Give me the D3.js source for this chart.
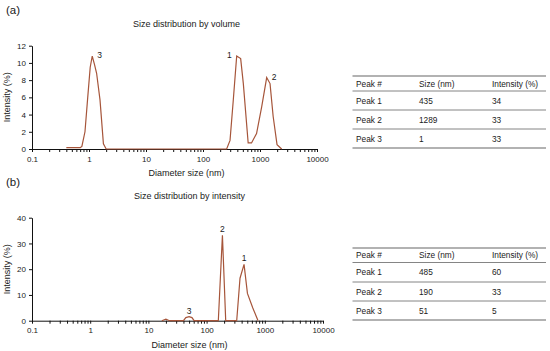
<!DOCTYPE html>
<html>
<head>
<meta charset="utf-8">
<script src="https://cdn.jsdelivr.net/npm/d3@7"></script>
<style>
  body { margin: 0; background: #fff; }
  svg { font-family: "Liberation Sans", Arial, sans-serif; }
</style>
</head>
<body>
<svg id="fig" width="550" height="351"></svg>
<script>
// Volume distribution (panel a)
const volSize = [0.4, 0.5, 0.6, 0.7, 0.75, 0.85, 0.95, 1.05, 1.14, 1.25, 1.36, 1.56, 1.79, 2.0,
  260, 298, 340, 390, 458, 510, 620, 710, 870, 1070, 1310, 1500, 1700, 1990, 2400];
const volValue = [0.15, 0.15, 0.15, 0.15, 0.3, 2.0, 6.0, 9.5, 10.8, 9.8, 8.8, 5.7, 0.6, 0,
  0, 1.0, 5.7, 10.8, 10.5, 7.6, 0.7, 0.7, 1.8, 4.9, 8.3, 7.6, 3.8, 0.5, 0];
const volPeaks = [
  { name: '3', size: 1.14, value: 10.8, side: 'right' },
  { name: '1', size: 390, value: 10.8, side: 'left' },
  { name: '2', size: 1310, value: 8.3, side: 'right' }
];

// Intensity distribution (panel b)
const intSize = [17, 20, 23, 40, 44, 50, 56, 61, 159, 187, 213, 329, 375, 440, 503, 620, 766];
const intValue = [0, 0.6, 0, 0, 1.2, 1.6, 1.2, 0, 0, 33.2, 0, 0, 16.5, 21.9, 10.6, 5, 0];
const intPeaks = [
  { name: '2', size: 187, value: 33.2, side: 'top' },
  { name: '1', size: 440, value: 21.9, side: 'top' },
  { name: '3', size: 50, value: 1.6, side: 'top' }
];

// Tables
const tableHeader = ['Peak #', 'Size (nm)', 'Intensity (%)'];
const volTable = [['Peak 1', '435', '34'], ['Peak 2', '1289', '33'], ['Peak 3', '1', '33']];
const intTable = [['Peak 1', '485', '60'], ['Peak 2', '190', '33'], ['Peak 3', '51', '5']];

const volTicksY = [0, 2, 4, 6, 8, 10, 12];
const intTicksY = [0, 10, 20, 30, 40];

const svg = d3.select('#fig');
const lineColor = '#a6553a';
const textColor = '#1a1a1a';

// log ticks: 0.1..10000 with minor ticks 2..9
const xTicks = [];
for (let e = -1; e < 4; e++) {
  for (let m = 1; m < 10; m++) xTicks.push(m * Math.pow(10, e));
}
xTicks.push(10000);
const majors = [0.1, 1, 10, 100, 1000, 10000];

function panel(opt) {
  const x = d3.scaleLog().domain([0.1, 10000]).range([opt.left, opt.right]);
  const y = d3.scaleLinear().domain([0, opt.ymax]).range([opt.bottom, opt.top]);
  const g = svg.append('g');

  g.append('text')
    .attr('x', 6).attr('y', opt.top - 32)
    .attr('font-size', 11.5).attr('fill', textColor)
    .text(opt.letter);

  g.append('text')
    .attr('x', (opt.left + opt.right) / 2 + 12).attr('y', opt.top - 19)
    .attr('text-anchor', 'middle')
    .attr('font-size', 9).attr('fill', textColor)
    .text(opt.title);

  const xAxis = d3.axisBottom(x)
    .tickValues(xTicks)
    .tickFormat(d => majors.includes(d) ? (d < 1 ? '0.1' : String(d)) : '')
    .tickSize(3)
    .tickSizeOuter(0);
  const xg = g.append('g')
    .attr('transform', `translate(0,${opt.bottom})`)
    .call(xAxis);
  xg.selectAll('text').attr('font-size', 8).attr('fill', textColor).attr('dy', '0.85em');
  xg.selectAll('line, path').attr('stroke', '#111');

  const yAxis = d3.axisLeft(y)
    .tickValues(opt.yTicks)
    .tickSize(3)
    .tickSizeOuter(0);
  const yg = g.append('g')
    .attr('transform', `translate(${opt.left},0)`)
    .call(yAxis);
  yg.selectAll('text').attr('font-size', 8).attr('fill', textColor);
  yg.selectAll('line, path').attr('stroke', '#111');

  g.append('text')
    .attr('transform', `translate(10,${(opt.top + opt.bottom) / 2}) rotate(-90)`)
    .attr('text-anchor', 'middle')
    .attr('font-size', 9).attr('fill', textColor)
    .text('Intensity (%)');

  g.append('text')
    .attr('x', (opt.left + opt.right) / 2 + 12).attr('y', opt.bottom + 27)
    .attr('text-anchor', 'middle')
    .attr('font-size', 9).attr('fill', textColor)
    .text('Diameter size (nm)');

  const pts = opt.sizes.map((s, i) => [s, opt.values[i]]);
  g.append('path')
    .datum(pts)
    .attr('fill', 'none')
    .attr('stroke', lineColor)
    .attr('stroke-width', 1.2)
    .attr('d', d3.line().x(d => x(d[0])).y(d => y(d[1])));

  g.selectAll('text.peak')
    .data(opt.peaks)
    .join('text')
    .attr('class', 'peak')
    .attr('x', d => x(d.size) + (d.side === 'right' ? 5 : d.side === 'left' ? -5 : 0))
    .attr('y', d => y(d.value) + (d.side === 'top' ? -3 : 2))
    .attr('text-anchor', d => d.side === 'right' ? 'start' : d.side === 'left' ? 'end' : 'middle')
    .attr('font-size', 8.5).attr('fill', textColor)
    .text(d => d.name);
}

function table(rows, lines) {
  const g = svg.append('g');
  const cols = [356, 419, 492];
  const x0 = 352.5, x1 = 546;
  lines.forEach((ly, i) => {
    g.append('line')
      .attr('x1', x0).attr('x2', x1).attr('y1', ly).attr('y2', ly)
      .attr('stroke', '#666').attr('stroke-width', i === 0 || i === lines.length - 1 ? 1.2 : 0.8);
  });
  const all = [tableHeader].concat(rows);
  all.forEach((r, i) => {
    const cy = (lines[i] + lines[i + 1]) / 2;
    r.forEach((c, j) => {
      g.append('text')
        .attr('x', cols[j]).attr('y', cy + 3)
        .attr('font-size', 8.3).attr('fill', textColor)
        .text(c);
    });
  });
}

panel({ letter: '(a)', title: 'Size distribution by volume', left: 32, right: 317,
  top: 45.7, bottom: 149, ymax: 12, yTicks: volTicksY,
  sizes: volSize, values: volValue, peaks: volPeaks });
panel({ letter: '(b)', title: 'Size distribution by intensity', left: 32, right: 323,
  top: 217.7, bottom: 320.7, ymax: 40, yTicks: intTicksY,
  sizes: intSize, values: intValue, peaks: intPeaks });

table(volTable, [76, 91, 110, 129, 148]);
table(intTable, [248, 262.5, 282, 301, 320]);
</script>
</body>
</html>
